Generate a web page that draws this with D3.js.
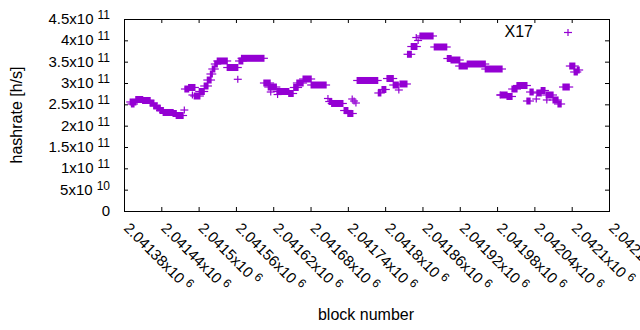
<!DOCTYPE html>
<html>
<head>
<meta charset="utf-8">
<script src="https://cdn.jsdelivr.net/npm/d3@7"></script>
<style>
  body, html { margin:0; padding:0; background:#fff; }
  svg text { font-family:"Liberation Sans", Arial, sans-serif; fill:#000; }
</style>
</head>
<body>
<svg id="chart" width="640" height="330"></svg>
<script>
// runs of consecutive blocks with the same estimated hashrate (single blocks have from == to)
var runFrom = [2041390,2041392,2041399,2041410,2041422,2041428,2041433,2041438,2041443,2041459,
  2041464,2041477,2041478,2041484,2041490,2041493,2041501,2041509,2041514,2041519,
  2041522,2041526,2041530,2041546,2041563,2041565,2041569,2041605,2041612,2041616,
  2041626,2041627,2041645,2041653,2041658,2041668,2041681,2041708,2041710,2041714,
  2041734,2041740,2041747,2041750,2041753,2041755,2041789,2041795,2041803,2041813,
  2041822,2041824,2041836,2041842,2041850,2041853,2041856,2041879,2041900,2041906,
  2041919,2041932,2041961,2041985,2041986,2041996,2042004,2042012,2042028,2042033,
  2042043,2042044,2042051,2042059,2042060,2042070,2042078,2042086,2042097,2042104,
  2042109];
var runTo = [2041399,2041396,2041410,2041422,2041428,2041433,2041438,2041443,2041459,2041464,
  2041475,2041477,2041484,2041494,2041490,2041502,2041509,2041515,2041520,2041522,
  2041526,2041530,2041546,2041563,2041563,2041571,2041605,2041615,2041625,2041616,
  2041645,2041627,2041652,2041660,2041668,2041681,2041705,2041708,2041714,2041732,
  2041740,2041748,2041747,2041750,2041753,2041788,2041793,2041801,2041813,2041821,
  2041822,2041835,2041842,2041851,2041850,2041853,2041877,2041899,2041906,2041920,
  2041932,2041961,2041988,2041985,2041996,2042004,2042012,2042028,2042033,2042038,
  2042043,2042051,2042057,2042070,2042060,2042078,2042083,2042096,2042105,2042109,
  2042112];
var runRate = [2.555e11,2.508e11,2.613e11,2.590e11,2.531e11,2.461e11,2.414e11,2.355e11,2.309e11,2.285e11,
  2.238e11,2.367e11,2.859e11,2.895e11,2.719e11,2.695e11,2.801e11,2.930e11,3.070e11,3.211e11,
  3.328e11,3.445e11,3.516e11,3.363e11,3.087e11,3.516e11,3.579e11,3.000e11,2.906e11,2.789e11,
  2.801e11,2.730e11,2.754e11,2.895e11,3.000e11,3.094e11,2.953e11,2.637e11,2.566e11,2.520e11,
  2.355e11,2.285e11,2.625e11,2.578e11,2.531e11,3.059e11,2.766e11,2.848e11,3.105e11,2.953e11,
  2.836e11,2.977e11,3.673e11,3.855e11,4.066e11,3.996e11,4.102e11,3.844e11,3.574e11,3.539e11,
  3.398e11,3.445e11,3.328e11,2.719e11,2.719e11,2.684e11,2.859e11,2.941e11,2.578e11,2.789e11,
  2.625e11,2.766e11,2.824e11,2.719e11,2.602e11,2.602e11,2.508e11,2.906e11,3.398e11,3.258e11,
  3.305e11];

var xTicks = [2041380,2041440,2041500,2041560,2041620,2041680,2041740,2041800,2041860,2041920,
  2041980,2042040,2042100,2042160];
var xTickLabels = ["2.04138x10^6","2.04144x10^6","2.0415x10^6","2.04156x10^6","2.04162x10^6",
  "2.04168x10^6","2.04174x10^6","2.0418x10^6","2.04186x10^6","2.04192x10^6","2.04198x10^6",
  "2.04204x10^6","2.0421x10^6","2.04216x10^6"];
var yTicks = [0,0.5e11,1e11,1.5e11,2e11,2.5e11,3e11,3.5e11,4e11,4.5e11];
var yTickLabels = ["0","5x10^10","1x10^11","1.5x10^11","2x10^11","2.5x10^11","3x10^11",
  "3.5x10^11","4x10^11","4.5x10^11"];

var seriesName = "X17";
var color = "#9400d3";

var svg = d3.select("#chart");
var plotL = 124, plotR = 609, plotT = 19, plotB = 211;

var x = d3.scaleLinear().domain([2041380, 2042160]).range([plotL, plotR]);
var y = d3.scaleLinear().domain([0, 4.5e11]).range([plotB, plotT]);

// inward ticks on all four sides, gnuplot style
function ticks(axis, tx, ty) {
  var g = svg.append("g").attr("transform", "translate(" + tx + "," + ty + ")")
    .call(axis.tickSize(-4).tickFormat(""));
  g.select(".domain").remove();
  g.selectAll(".tick line").attr("stroke", "#000");
}
ticks(d3.axisBottom(x).tickValues(xTicks), 0, plotB);
ticks(d3.axisTop(x).tickValues(xTicks), 0, plotT);
ticks(d3.axisLeft(y).tickValues(yTicks), plotL, 0);
ticks(d3.axisRight(y).tickValues(yTicks), plotR, 0);

svg.append("rect")
  .attr("x", plotL + 0.5).attr("y", plotT + 0.5)
  .attr("width", plotR - plotL).attr("height", plotB - plotT)
  .attr("fill", "none").attr("stroke", "#000").attr("stroke-width", 1);

// tick labels with superscript exponent
function label(sel, str, supSize, dx, dy) {
  var parts = str.split("^");
  sel.append("tspan").text(parts[0]);
  if (parts.length > 1) {
    sel.append("tspan").attr("dx", dx).attr("dy", dy)
      .style("font-size", supSize + "px").text(parts[1]);
  }
}

svg.selectAll("text.ylab").data(yTicks).enter().append("text")
  .attr("class", "ylab")
  .attr("x", 110).attr("y", function(d) { return y(d) + 5; })
  .attr("text-anchor", "end")
  .style("font-size", "15px")
  .each(function(d, i) { label(d3.select(this), yTickLabels[i], 12, 4, -5); });

svg.selectAll("g.xlab").data(xTicks).enter().append("g")
  .attr("class", "xlab")
  .attr("transform", function(d) { return "translate(" + (x(d) - 1) + ",229) rotate(45)"; })
  .append("text")
  .style("font-size", "15px")
  .each(function(d, i) { label(d3.select(this), xTickLabels[i], 12, 4, -5); });

svg.append("text")
  .attr("x", 366).attr("y", 320).attr("text-anchor", "middle")
  .style("font-size", "16px").text("block number");

svg.append("text")
  .attr("transform", "translate(22,115) rotate(-90)").attr("text-anchor", "middle")
  .style("font-size", "16px").text("hashrate [h/s]");

// data marks: each run is a '+' swept along the blocks it covers
var runs = runFrom.map(function(f, i) { return {from: f, to: runTo[i], rate: runRate[i]}; });
var marks = svg.append("g");
marks.selectAll("rect").data(runs).enter().append("rect")
  .attr("x", function(d) { return x(d.from) - 0.6; })
  .attr("width", function(d) { return x(d.to) - x(d.from) + 1.2; })
  .attr("y", function(d) { return y(d.rate) - 3.5; })
  .attr("height", 7)
  .attr("fill", color);
marks.selectAll("line").data(runs).enter().append("line")
  .attr("x1", function(d) { return x(d.from) - 4; })
  .attr("x2", function(d) { return x(d.to) + 4; })
  .attr("y1", function(d) { return y(d.rate); })
  .attr("y2", function(d) { return y(d.rate); })
  .attr("stroke", color).attr("stroke-width", 1.2);

// key
svg.append("text").attr("x", 533).attr("y", 37).attr("text-anchor", "end")
  .style("font-size", "16px").text(seriesName);
var key = svg.append("g").attr("stroke", color).attr("stroke-width", 1.2);
key.append("line").attr("x1", 564).attr("x2", 572).attr("y1", 32.5).attr("y2", 32.5);
key.append("line").attr("x1", 568).attr("x2", 568).attr("y1", 29).attr("y2", 36);
</script>
</body>
</html>
